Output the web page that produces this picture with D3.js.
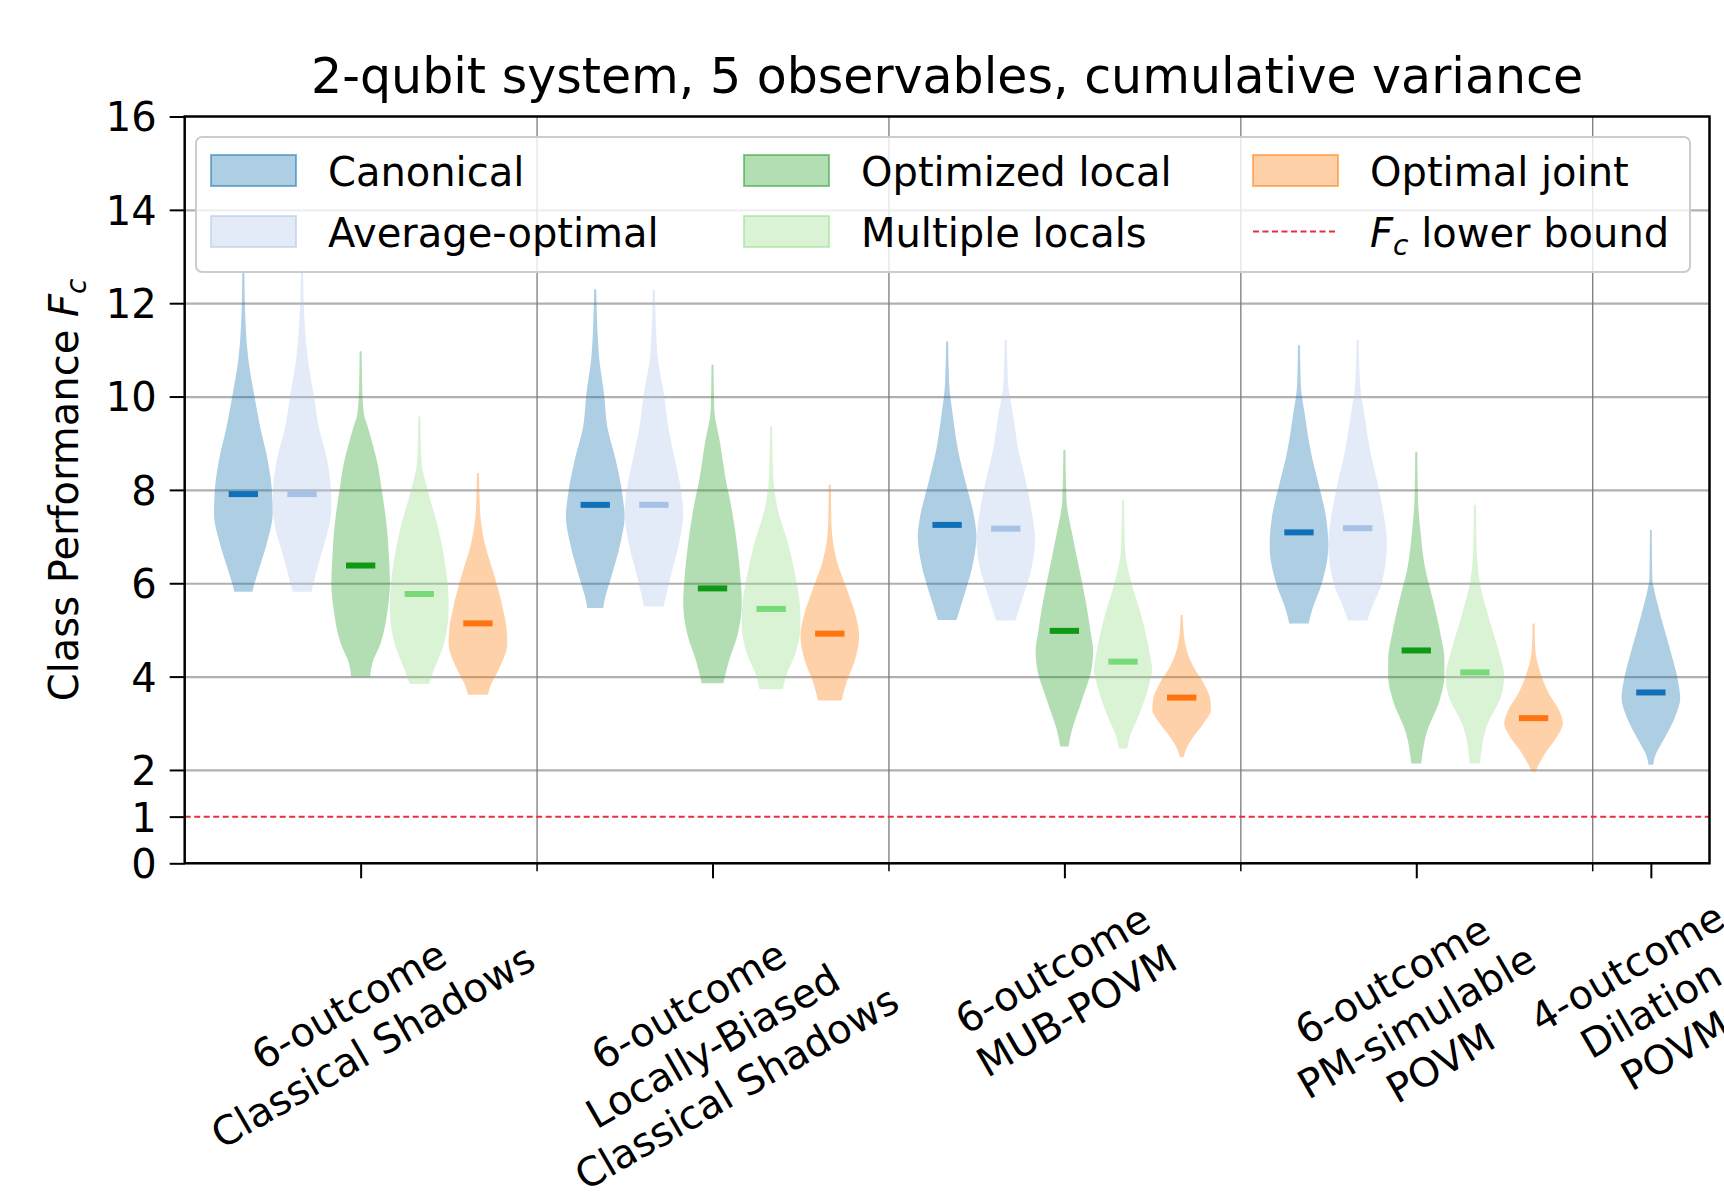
<!DOCTYPE html>
<html>
<head>
<meta charset="utf-8">
<script src="https://cdn.jsdelivr.net/npm/d3@7"></script>
<style>
  body { margin: 0; background: #fff; }
  svg { display: block; font-family: 'DejaVu Sans', sans-serif; }
</style>
</head>
<body>
<svg id="chart" width="1724" height="1197"></svg>
<script>
// ---------------- data ----------------
const titleText = "2-qubit system, 5 observables, cumulative variance";

// measurement classes (x categories), one entry per line of the tick label
const groupLabels = [
  ["6-outcome", "Classical Shadows"],
  ["6-outcome", "Locally-Biased", "Classical Shadows"],
  ["6-outcome", "MUB-POVM"],
  ["6-outcome", "PM-simulable", "POVM"],
  ["4-outcome", "Dilation", "POVM"]
];
const groupCenters = [0, 1, 2, 3, 3 + 2 / 3];
const groupBoundaries = [0.5, 1.5, 2.5, 3.5];

const seriesNames = ["Canonical", "Average-optimal", "Optimized local", "Multiple locals", "Optimal joint"];

const yTickValues = [0, 1, 2, 4, 6, 8, 10, 12, 14, 16];
const yGridValues = [2, 4, 6, 8, 10, 12, 14];
const lowerBound = 1;

// medians of F_c per class (null = not evaluated)
const canonicalMedian      = [7.91, 7.68, 7.25, 7.09, 3.66];
const averageOptimalMedian = [7.91, 7.68, 7.17, 7.18, null];
const optimizedLocalMedian = [6.38, 5.89, 4.98, 4.56, null];
const multipleLocalsMedian = [5.77, 5.45, 4.32, 4.09, null];
const optimalJointMedian   = [5.14, 4.92, 3.55, 3.11, null];

// density profiles: [F_c value, relative density (1 = widest point)], from min to max
const canonicalDensity = [
  [[5.82,.31],[5.95,.36],[6.36,.56],[6.85,.8],[7.5,1.0],[7.93,.98],[8.64,.83],[9.36,.57],[10.07,.36],[10.8,.17],[11.5,.08],[12.65,.035]],
  [[5.47,.27],[5.64,.32],[6.14,.55],[6.86,.86],[7.43,1.0],[7.93,.92],[8.64,.7],[9.36,.41],[10.07,.3],[10.79,.14],[11.5,.07],[12.3,.035]],
  [[5.21,.32],[5.64,.53],[6.36,.86],[7.0,1.0],[7.43,.92],[8.14,.64],[8.86,.37],[9.57,.2],[10.28,.07],[11.18,.035]],
  [[5.14,.33],[5.43,.45],[6.0,.78],[6.78,1.0],[7.43,.92],[8.14,.66],[8.86,.39],[9.57,.21],[10.28,.06],[11.1,.035]],
  [[2.11,.08],[2.29,.14],[2.64,.43],[3.14,.83],[3.54,1.0],[3.86,.94],[4.57,.66],[5.29,.34],[5.93,.09],[6.07,.05],[7.14,.03]]
];
const averageOptimalDensity = [
  [[5.82,.32],[6.5,.6],[7.22,.92],[7.6,1.0],[7.93,.99],[8.64,.86],[9.36,.57],[10.07,.39],[10.8,.2],[11.5,.1],[12.7,.035]],
  [[5.5,.33],[6.14,.57],[6.86,.86],[7.5,1.0],[7.93,.94],[8.64,.72],[9.36,.49],[10.07,.34],[10.79,.14],[11.5,.07],[12.29,.035]],
  [[5.2,.33],[5.64,.55],[6.36,.89],[6.93,1.0],[7.43,.91],[8.14,.7],[8.86,.43],[9.57,.26],[10.28,.08],[11.21,.035]],
  [[5.2,.33],[5.5,.5],[6.0,.82],[6.86,1.0],[7.43,.9],[8.14,.68],[8.86,.42],[9.57,.24],[10.28,.08],[11.21,.035]],
  null
];
const optimizedLocalDensity = [
  [[4.0,.32],[4.29,.4],[4.71,.68],[5.43,.92],[6.0,1.0],[6.5,.97],[7.22,.89],[8.0,.72],[8.64,.55],[9.0,.4],[9.36,.24],[9.6,.12],[10.07,.06],[10.97,.035]],
  [[3.86,.37],[4.36,.57],[4.86,.84],[5.57,1.0],[6.14,.95],[6.86,.83],[7.57,.66],[8.29,.43],[9.0,.26],[9.72,.06],[10.68,.035]],
  [[2.5,.14],[2.86,.26],[3.5,.6],[4.21,.94],[4.57,.98],[4.93,.9],[5.64,.72],[6.36,.49],[7.07,.26],[7.79,.07],[8.86,.035]],
  [[2.14,.17],[2.79,.35],[3.5,.8],[4.0,.96],[4.36,.96],[4.93,.82],[5.64,.57],[6.36,.29],[7.07,.15],[7.79,.06],[8.82,.035]],
  null
];
const multipleLocalsDensity = [
  [[3.84,.33],[4.14,.5],[4.71,.84],[5.43,1.0],[5.79,.99],[6.5,.86],[7.22,.63],[8.0,.28],[8.64,.07],[9.57,.035]],
  [[3.73,.4],[4.0,.5],[4.5,.83],[5.07,1.0],[5.43,.99],[6.14,.83],[6.86,.57],[7.57,.23],[8.29,.07],[9.36,.035]],
  [[2.46,.14],[2.71,.23],[3.14,.52],[3.86,.9],[4.14,.99],[4.57,.89],[5.29,.63],[6.0,.29],[6.71,.07],[7.79,.035]],
  [[2.14,.17],[2.93,.4],[3.64,.92],[4.0,1.0],[4.57,.8],[5.29,.46],[6.0,.17],[6.71,.06],[7.68,.035]],
  null
];
const optimalJointDensity = [
  [[3.61,.34],[3.79,.42],[4.14,.7],[4.71,1.0],[5.0,.98],[5.43,.86],[6.14,.57],[6.86,.23],[7.57,.07],[8.36,.035]],
  [[3.49,.4],[3.86,.56],[4.36,.86],[4.86,1.0],[5.22,.92],[5.79,.63],[6.5,.23],[7.22,.06],[8.11,.035]],
  [[2.27,.06],[2.43,.14],[2.71,.4],[3.0,.75],[3.29,1.0],[3.5,.98],[3.86,.75],[4.21,.4],[4.57,.17],[4.93,.07],[5.32,.035]],
  [[1.96,.06],[2.07,.14],[2.36,.4],[2.71,.8],[3.0,1.0],[3.29,.86],[3.64,.52],[4.21,.17],[4.57,.06],[5.14,.035]],
  null
];

const seriesDensity = [canonicalDensity, averageOptimalDensity, optimizedLocalDensity, multipleLocalsDensity, optimalJointDensity];
const seriesMedian  = [canonicalMedian, averageOptimalMedian, optimizedLocalMedian, multipleLocalsMedian, optimalJointMedian];

// ---------------- styles ----------------
const fillColors   = ["#1f77b4", "#aec7e8", "#2ca02c", "#98df8a", "#ff7f0e"];
const medianColors = ["#1170b8", "#a6c2e6", "#0f9a14", "#78da78", "#ff7410"];
const fillOpacity  = 0.36;
const boundColor   = "#e2303e";

// ---------------- layout ----------------
const svg = d3.select("#chart");
const plot = { left: 184.7, right: 1709.5, top: 116.5, bottom: 863.3 };
const x = d3.scaleLinear().domain([-0.5, 3 + 5 / 6]).range([plot.left, plot.right]);
const y = d3.scaleLinear().domain([0, 16]).range([plot.bottom, plot.top]);
const slot = 1 / 6;           // spacing between violins inside a class
const halfWidth = slot / 2;   // violins fill their slot at the widest point

// grid
const gridH = svg.append("g")
  .attr("transform", `translate(${plot.left},0)`)
  .call(d3.axisLeft(y).tickValues(yGridValues).tickSize(-(plot.right - plot.left)).tickFormat(""));
gridH.select(".domain").remove();
gridH.selectAll("line").attr("stroke", "#b0b0b0").attr("stroke-width", 2.2);

const gridV = svg.append("g")
  .attr("transform", `translate(0,${plot.bottom})`)
  .call(d3.axisBottom(x).tickValues(groupBoundaries).tickSize(-(plot.bottom - plot.top)).tickFormat(""));
gridV.select(".domain").remove();
gridV.selectAll("line").attr("stroke", "#7a7a7a").attr("stroke-width", 1.3);

// lower bound
svg.append("line")
  .attr("x1", plot.left).attr("x2", plot.right)
  .attr("y1", y(lowerBound)).attr("y2", y(lowerBound))
  .attr("stroke", boundColor).attr("stroke-width", 2).attr("stroke-dasharray", "6,3.5");

// violins
const violinLayer = svg.append("g");
const barLayer = svg.append("g");
groupCenters.forEach((c, gi) => {
  const present = seriesDensity.map((s, si) => s[gi] ? si : -1).filter(si => si >= 0);
  present.forEach(si => {
    const pos = present.length === 1 ? c : c + (si - 2) * slot;
    const prof = seriesDensity[si][gi];
    const area = d3.area()
      .y(d => y(d[0]))
      .x0(d => x(pos - halfWidth * d[1]))
      .x1(d => x(pos + halfWidth * d[1]))
      .curve(d3.curveMonotoneY);
    violinLayer.append("path")
      .attr("d", area(prof))
      .attr("fill", fillColors[si])
      .attr("fill-opacity", fillOpacity);
    const m = seriesMedian[si][gi];
    barLayer.append("line")
      .attr("x1", x(pos - halfWidth / 2)).attr("x2", x(pos + halfWidth / 2))
      .attr("y1", y(m)).attr("y2", y(m))
      .attr("stroke", medianColors[si]).attr("stroke-width", 6);
  });
});

// axes
const yAxis = svg.append("g")
  .attr("transform", `translate(${plot.left},0)`)
  .call(d3.axisLeft(y).tickValues(yTickValues).tickSize(15).tickPadding(13).tickFormat(d3.format("d")));
yAxis.select(".domain").remove();
yAxis.selectAll("line").attr("stroke", "#000").attr("stroke-width", 2);
yAxis.selectAll("text").attr("font-size", 40).attr("fill", "#000")
  .attr("font-family", "'DejaVu Sans', sans-serif").attr("dy", "0.36em");

const xMajor = svg.append("g")
  .attr("transform", `translate(0,${plot.bottom})`)
  .call(d3.axisBottom(x).tickValues(groupCenters).tickSize(15).tickFormat(""));
xMajor.select(".domain").remove();
xMajor.selectAll("line").attr("stroke", "#000").attr("stroke-width", 2);

const xMinor = svg.append("g")
  .attr("transform", `translate(0,${plot.bottom})`)
  .call(d3.axisBottom(x).tickValues(groupBoundaries).tickSize(8).tickFormat(""));
xMinor.select(".domain").remove();
xMinor.selectAll("line").attr("stroke", "#000").attr("stroke-width", 1.5);

// spines
svg.append("rect")
  .attr("x", plot.left).attr("y", plot.top)
  .attr("width", plot.right - plot.left).attr("height", plot.bottom - plot.top)
  .attr("fill", "none").attr("stroke", "#000").attr("stroke-width", 2.5);

// rotated, multi-line class labels (centred on tick, top aligned below the ticks)
const lineH = 48;
const ang = Math.PI / 6;
groupLabels.forEach((lines, i) => {
  const g = svg.append("g");
  const t = g.append("text").attr("font-size", 40).attr("text-anchor", "middle").attr("fill", "#000");
  const n = lines.length;
  lines.forEach((s, j) => {
    t.append("tspan").attr("x", 0).attr("y", (j - (n - 1) / 2) * lineH).attr("dy", "0.36em").text(s);
  });
  const W = d3.max(t.selectAll("tspan").nodes(), nd => nd.getComputedTextLength());
  const H = n * lineH;
  const bh = W * Math.sin(ang) + H * Math.cos(ang);
  const top = plot.bottom + 15 + 14;
  g.attr("transform", `translate(${x(groupCenters[i])},${top + bh / 2}) rotate(-30)`);
});

// y label
const yl = svg.append("text")
  .attr("transform", `translate(77.5,${(plot.top + plot.bottom) / 2}) rotate(-90)`)
  .attr("text-anchor", "middle").attr("font-size", 40).attr("fill", "#000");
yl.append("tspan").text("Class Performance ");
yl.append("tspan").attr("font-style", "italic").text("F");
yl.append("tspan").attr("font-style", "italic").attr("font-size", 28).attr("dy", 8).text("c");

// title
svg.append("text")
  .attr("x", (plot.left + plot.right) / 2).attr("y", 93.3)
  .attr("text-anchor", "middle").attr("font-size", 49).attr("fill", "#000")
  .text(titleText);

// legend
const legend = svg.append("g");
legend.append("rect")
  .attr("x", 196).attr("y", 137).attr("width", 1494).attr("height", 135).attr("rx", 6)
  .attr("fill", "#fff").attr("fill-opacity", 0.8)
  .attr("stroke", "#cccccc").attr("stroke-width", 2);
const colX = [211, 744, 1253];
const rowY = [155, 216];
const patchW = 85, patchH = 31, textGap = 32;
seriesNames.forEach((name, si) => {
  const col = Math.floor(si / 2), row = si % 2;
  const px = colX[col], py = rowY[row];
  legend.append("rect")
    .attr("x", px).attr("y", py).attr("width", patchW).attr("height", patchH)
    .attr("fill", fillColors[si]).attr("fill-opacity", fillOpacity)
    .attr("stroke", fillColors[si]).attr("stroke-opacity", 0.55).attr("stroke-width", 2);
  legend.append("text")
    .attr("x", px + patchW + textGap).attr("y", py + patchH)
    .attr("font-size", 40).attr("fill", "#000").text(name);
});
{
  const px = colX[2], py = rowY[1];
  legend.append("line")
    .attr("x1", px).attr("x2", px + patchW)
    .attr("y1", py + patchH / 2).attr("y2", py + patchH / 2)
    .attr("stroke", boundColor).attr("stroke-width", 2).attr("stroke-dasharray", "6,3.5");
  const lt = legend.append("text")
    .attr("x", px + patchW + textGap).attr("y", py + patchH)
    .attr("font-size", 40).attr("fill", "#000");
  lt.append("tspan").attr("font-style", "italic").text("F");
  lt.append("tspan").attr("font-style", "italic").attr("font-size", 28).attr("dy", 8).text("c");
  lt.append("tspan").attr("dy", -8).text(" lower bound");
}
</script>
</body>
</html>
